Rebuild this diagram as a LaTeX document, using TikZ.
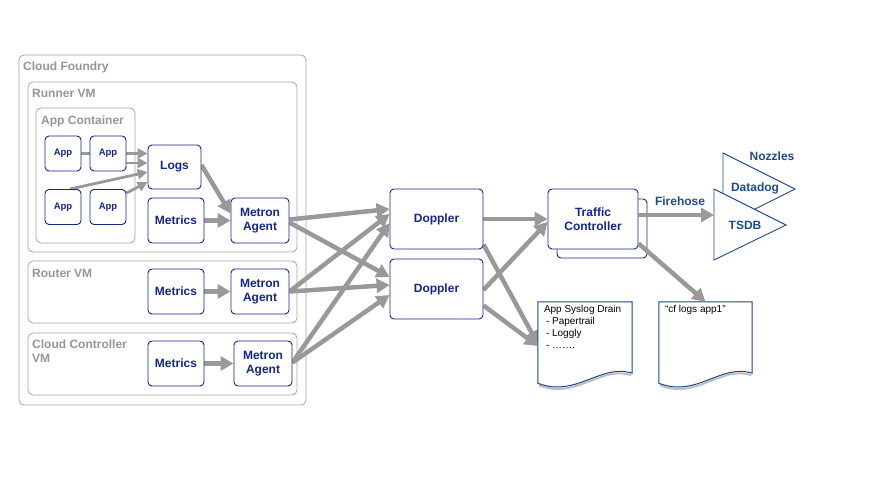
\documentclass[tikz,border=0pt]{standalone}
\usepackage{fontspec}
\setmainfont{Liberation Sans}
\usetikzlibrary{arrows.meta,calc}
\pgfdeclarelayer{bg}
\pgfdeclarelayer{mid}
\pgfsetlayers{bg,mid,main}
\definecolor{navy}{RGB}{18,38,140}
\definecolor{agray}{RGB}{153,153,153}
\definecolor{cgray}{RGB}{165,165,165}
\definecolor{lgray}{RGB}{150,150,150}
\definecolor{tblue}{RGB}{30,75,140}
\definecolor{dblue}{RGB}{25,70,140}
\begin{document}
\begin{tikzpicture}[x=1pt,y=-1pt,
  box/.style={draw=navy, line width=0.9pt, rounded corners=4pt, fill=white, text=navy,
    font=\bfseries\fontsize{12}{14}\selectfont, align=center, inner sep=0pt},
  appbox/.style={box, font=\bfseries\fontsize{9.5}{11}\selectfont, minimum width=36pt, minimum height=35pt},
  mbox/.style={box, minimum width=56pt, minimum height=45pt},
  metron/.style={box, minimum width=58pt, minimum height=45pt},
  dbox/.style={box, minimum width=93pt, minimum height=60pt},
  cont/.style={draw=cgray, line width=0.8pt, rounded corners=5pt, inner sep=0pt},
  lab/.style={text=lgray, font=\bfseries\fontsize{12}{14}\selectfont, inner sep=0pt, align=left},
  tlab/.style={text=tblue, font=\bfseries\fontsize{12}{14}\selectfont, inner sep=0pt},
  tri/.style={draw=tblue, line width=0.9pt, fill=white, line join=miter},
  docn/.style={inner sep=0pt, draw=none},
  docline/.style={draw=dblue, line width=1pt, fill=white},
  docshadow/.style={draw=black!25, line width=2pt},
  doctxt/.style={inner sep=0pt, font=\fontsize{10}{12}\selectfont, align=left, text=black},
  arr/.style={draw=agray, line width=4.5pt, -{Triangle[length=13pt,width=14pt]}},
  tarr/.style={draw=agray, line width=2.8pt, -{Triangle[length=10pt,width=10pt]}}
]
\useasboundingbox (0,0) rectangle (872,477);
\begin{pgfonlayer}{bg}
\fill[white] (0,0) rectangle (872,477);
\node[cont, minimum width=287pt, minimum height=350pt] (cf) at (162.5,230) {};
\node[cont, minimum width=269pt, minimum height=170pt] (runner) at (162.5,167) {};
\node[cont, minimum width=99pt, minimum height=135pt] (appc) at (85.5,175.5) {};
\node[cont, minimum width=269pt, minimum height=62pt] (router) at (162.5,292) {};
\node[cont, minimum width=269pt, minimum height=62pt] (ccvm) at (162.5,364) {};
\end{pgfonlayer}

\node[lab, anchor=base west] (cflab) at (23,70) {Cloud Foundry};
\node[lab, anchor=base west] (runlab) at (32,97) {Runner VM};
\node[lab, anchor=base west] (applab) at (41,124) {App Container};
\node[lab, anchor=base west] (routlab) at (32,277) {Router VM};
\node[lab, anchor=north west] (cclab) at (32,340) {Cloud Controller\\VM};

\node[appbox] (app1) at (63,153.5) {App};
\node[appbox] (app2) at (108,153.5) {App};
\node[appbox] (app3) at (63,207) {App};
\node[appbox] (app4) at (108,207) {App};
\node[box, minimum width=53pt, minimum height=44pt] (logs) at (174.5,167) {Logs};
\node[mbox] (metricsA) at (176,220.5) {Metrics};
\node[metron] (metronA) at (260,220.5) {Metron\\Agent};
\node[mbox] (metricsB) at (176,291.5) {Metrics};
\node[metron] (metronB) at (260,291.5) {Metron\\Agent};
\node[mbox] (metricsC) at (176,363.5) {Metrics};
\node[metron] (metronC) at (263,363.5) {Metron\\Agent};
\node[dbox] (dop1) at (436.5,219) {Doppler};
\node[dbox] (dop2) at (436.5,289) {Doppler};
\node[dbox, minimum width=90pt, minimum height=59pt] (tcs) at (602,228.5) {};
\node[dbox, minimum width=90pt] (tc) at (593,219) {Traffic\\Controller};

% nozzles
\coordinate (ddA) at (723,153);
\coordinate (ddB) at (723,225);
\coordinate (ddC) at (795,189);
\draw[tri] (ddA) -- (ddC) -- (ddB) -- cycle;
\coordinate (tsA) at (714,189);
\coordinate (tsB) at (714,260);
\coordinate (tsC) at (786,225);
\draw[tri] (tsA) -- (tsC) -- (tsB) -- cycle;
\coordinate (tsin) at (714,215);
\node[tlab] (dd) at (755,188) {Datadog};
\node[tlab] (ts) at (745,225) {TSDB};
\node[tlab] (noz) at (772,156) {Nozzles};
\node[tlab] (fh) at (680,201) {Firehose};

% documents
\node[docn, minimum width=94pt, minimum height=86pt] (drain) at (585,345) {};
\draw[docshadow] ($(drain.south east)+(-1,-13)$)
  .. controls ($(drain.south east)+(-32,-23)$) and ($(drain.south west)+(38,12)$) .. ($(drain.south west)+(1,-3)$);
\draw[docline] (drain.north west) -- (drain.north east) -- ($(drain.south east)+(0,-15)$)
  .. controls ($(drain.south east)+(-32,-25)$) and ($(drain.south west)+(38,10)$) .. ($(drain.south west)+(0,-5)$) -- cycle;
\node[doctxt, anchor=north west] (draintxt) at ($(drain.north west)+(6,3)$)
  {App Syslog Drain\\\hspace*{2pt}- Papertrail\\\hspace*{2pt}- Loggly\\\hspace*{2pt}- …….};
\node[docn, minimum width=93pt, minimum height=86pt] (cfl) at (705.5,345) {};
\draw[docshadow] ($(cfl.south east)+(-1,-13)$)
  .. controls ($(cfl.south east)+(-32,-23)$) and ($(cfl.south west)+(38,12)$) .. ($(cfl.south west)+(1,-3)$);
\draw[docline] (cfl.north west) -- (cfl.north east) -- ($(cfl.south east)+(0,-15)$)
  .. controls ($(cfl.south east)+(-32,-25)$) and ($(cfl.south west)+(38,10)$) .. ($(cfl.south west)+(0,-5)$) -- cycle;
\node[doctxt, anchor=north west] (cfltxt) at ($(cfl.north west)+(6,3)$) {“cf logs app1”};

\begin{pgfonlayer}{mid}
\coordinate (a2) at ($(app2.east)+(0,9.5)$);
\draw[tarr] (app1.east) -- (logs.west |- app1.east);
\draw[tarr] (a2) -- (logs.west |- a2);
\draw[tarr] ($(app3.north)+(7,0)$) -- ($(logs.west)+(0,5)$);
\draw[tarr] ($(app4.north east)+(0,4)$) -- ($(logs.west)+(0,15)$);
\draw[arr] ($(logs.east)+(0,-2)$) -- ($(metronA.west)+(0,-7)$);
\draw[arr] (metricsA) -- (metronA);
\draw[arr] (metricsB) -- (metronB);
\draw[arr] (metricsC) -- (metronC);
\draw[arr] ($(metronA.east)+(0,-1)$) -- ($(dop1.west)+(0,-10)$);
\draw[arr] ($(metronA.east)+(0,2)$) -- ($(dop2.west)+(0,-12)$);
\draw[arr] (metronB.east) -- ($(dop1.west)+(0,-5)$);
\draw[arr] (metronB.east) -- ($(dop2.west)+(0,-4)$);
\draw[arr] ($(metronC.east)+(0,-1)$) -- ($(dop1.west)+(0,4)$);
\draw[arr] ($(metronC.east)+(0,-1)$) -- ($(dop2.west)+(0,6)$);
\draw[arr] (dop1) -- (tc);
\draw[arr] ($(dop2.east)+(0,1)$) -- ($(tc.west)+(0,3)$);
\draw[arr] ($(dop1.south east)+(0,-5)$) -- ($(drain.west)+(0,-1)$);
\draw[arr] ($(dop2.south east)+(0,-14)$) -- ($(drain.west)+(0,1)$);
\end{pgfonlayer}
\draw[arr] ($(tc.south east)+(0,-6)$) -- (cfl.north);
\draw[arr] ($(tc.east)+(0,-4)$) -- (tsin);
\end{tikzpicture}
\end{document}
